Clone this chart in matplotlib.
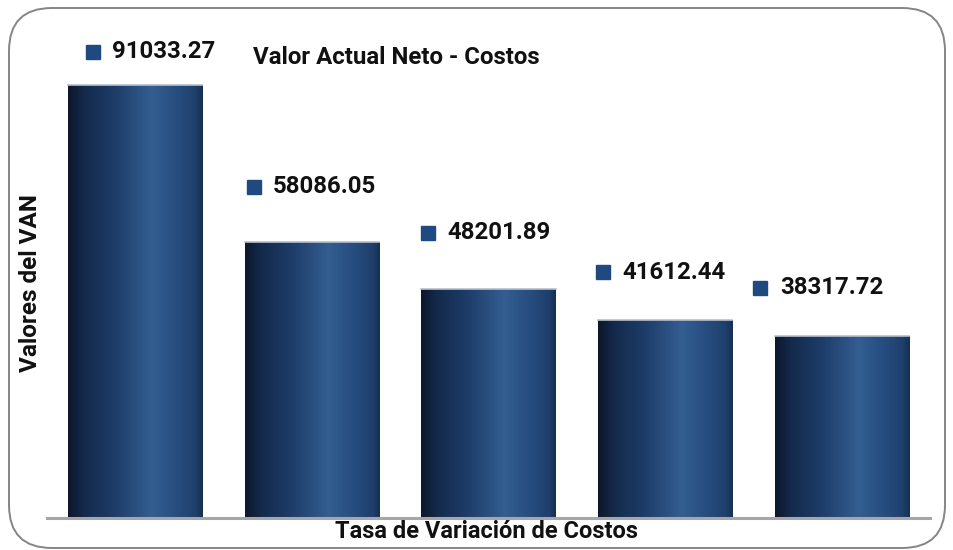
import numpy as np
import matplotlib
matplotlib.use("Agg")
import matplotlib.pyplot as plt
from matplotlib.patches import FancyBboxPatch, Rectangle
from matplotlib.colors import LinearSegmentedColormap

categories = ["1", "2", "3", "4", "5"]
values = [91033.27, 58086.05, 48201.89, 41612.44, 38317.72]
value_labels = ["91033.27", "58086.05", "48201.89", "41612.44", "38317.72"]

title = "Valor Actual Neto - Costos"
xlabel = "Tasa de Variación de Costos"
ylabel = "Valores del VAN"

# layout (label placement offsets, in bar-units / value-units)
label_dx = [-0.24, -0.33, -0.34, -0.35, -0.46]
label_dy = [7000, 11600, 11800, 10100, 10100]

plt.rcParams['font.family'] = ['Roboto', 'DejaVu Sans']
W, H = 954, 550
fig = plt.figure(figsize=(W / 100, H / 100), dpi=100)

ax = fig.add_axes([47 / W, (H - 518) / H, (930 - 47) / W, (518 - 20) / H])
px_per_unit = (518 - 85) / values[0]
ymax = (518 - 20) / px_per_unit

cmap = LinearSegmentedColormap.from_list("barg", [
    (0.0, "#0c172b"),
    (0.12, "#142a4c"),
    (0.35, "#1e3d69"),
    (0.62, "#345e91"),
    (0.85, "#24497a"),
    (0.95, "#1e3f6b"),
    (1.0, "#16304f"),
])
grad = np.linspace(0, 1, 256).reshape(1, -1)
bw = 0.76
x = np.arange(len(values))
bars = ax.bar(x, values, width=bw, color="none", edgecolor="none")
for b in bars:
    x0, y0 = b.get_x(), b.get_y()
    w, h = b.get_width(), b.get_height()
    im = ax.imshow(grad, cmap=cmap, aspect="auto", extent=[x0, x0 + w, y0, y0 + h],
                   zorder=2, interpolation="bicubic")
    clip = Rectangle((x0, y0), w, h, transform=ax.transData, facecolor="none", edgecolor="none")
    ax.add_patch(clip)
    im.set_clip_path(clip)
    ax.plot([x0, x0 + w], [y0 + h, y0 + h], color="#b8c0cc", lw=1.2, zorder=3)
ax.set_xlim(-0.5, len(values) - 0.5)
ax.set_ylim(0, ymax)

for i, (v, lab) in enumerate(zip(values, value_labels)):
    lx = x[i] + label_dx[i]
    ly = v + label_dy[i]
    ax.plot([lx], [ly], marker="s", ms=10.5, color="#1f4a80", mec="#1f4a80", zorder=4, clip_on=False)
    ax.text(lx + 0.11, ly, lab, fontsize=17.3, fontweight="bold", va="center", ha="left", color="#111111")

ax.text(253 / W, (H - 57) / H, title, transform=fig.transFigure, fontsize=17.3,
        fontweight="bold", va="center", ha="left", color="#111111")

for s in ["top", "right", "left"]:
    ax.spines[s].set_visible(False)
ax.spines["bottom"].set_color("#a6a6a6")
ax.spines["bottom"].set_linewidth(2.2)
ax.set_xticks([])
ax.set_yticks([])
ax.patch.set_alpha(0)

fig.text((333 + 640) / 2 / W, (H - 532) / H, xlabel, fontsize=17, fontweight="bold",
         ha="center", va="center", color="#111111")
fig.text(31 / W, (H - 283) / H, ylabel, fontsize=17.5, fontweight="bold",
         ha="center", va="center", rotation=90, color="#111111")

frame = FancyBboxPatch((9 / W, 2 / H), (945 - 9) / W, (542 - 2) / H,
                       boxstyle="round,pad=0,rounding_size=0.045",
                       transform=fig.transFigure, facecolor="none", edgecolor="#858585",
                       lw=1.4, mutation_aspect=W / H)
fig.patches.append(frame)

fig.savefig("out.png", dpi=100)
